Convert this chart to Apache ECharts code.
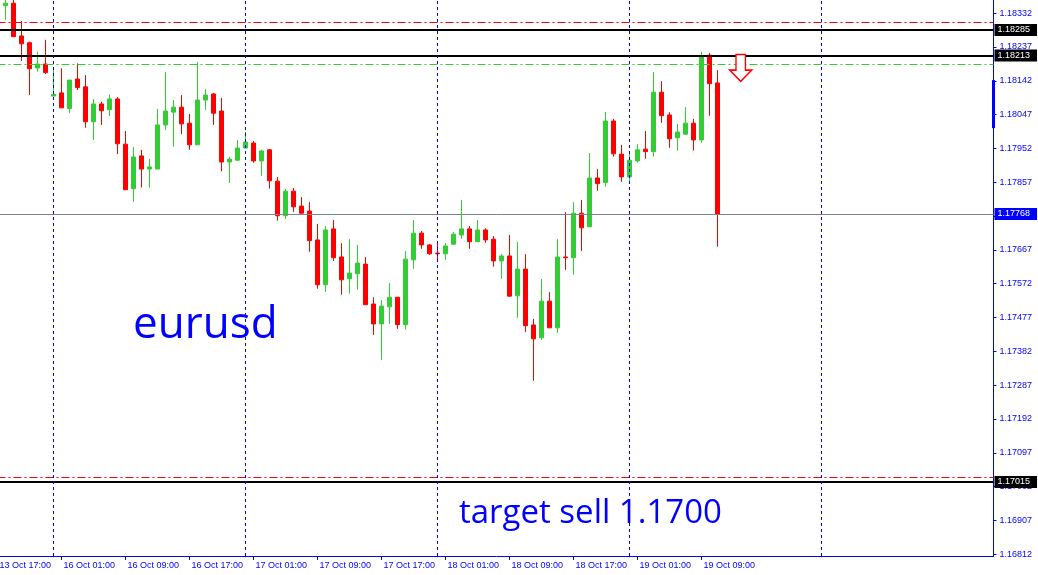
<!DOCTYPE html>
<html><head><meta charset="utf-8">
<script src="https://cdn.jsdelivr.net/npm/echarts@6/dist/echarts.min.js"></script>
<style>html,body{margin:0;padding:0;background:#fff}#c{width:1038px;height:575px}</style>
</head><body><div id="c"></div>
<script>
// H1 bars, index 0 = 13 Oct 18:00
const opens = [1.18353,1.18360,1.18268,1.18249,1.18178,1.18189,1.18099,1.18108,1.18064,1.18147,
1.18125,1.18027,1.18077,1.18061,1.18091,1.17964,1.17839,1.17931,1.17894,1.17894,
1.18018,1.18054,1.18068,1.18023,1.17962,1.18088,1.18105,1.18057,1.17914,1.17919,
1.17953,1.17967,1.17917,1.17948,1.17860,1.17763,1.17832,1.17790,1.17776,1.17695,
1.17569,1.17726,1.17647,1.17586,1.17600,1.17627,1.17515,1.17459,1.17507,1.17534,
1.17457,1.17639,1.17714,1.17681,1.17658,1.17656,1.17683,1.17709,1.17726,1.17690,
1.17723,1.17697,1.17636,1.17650,1.17538,1.17613,1.17456,1.17420,1.17523,1.17448,
1.17647,1.17645,1.17770,1.17732,1.17869,1.17856,1.18029,1.17936,1.17872,1.17917,
1.17950,1.17943,1.18110,1.18046,1.17982,1.17992,1.18023,1.17976,1.18214,1.18136];
const closes = [1.18360,1.18266,1.18246,1.18176,1.18189,1.18165,1.18104,1.18066,1.18144,1.18123,
1.18027,1.18077,1.18058,1.18091,1.17965,1.17836,1.17928,1.17894,1.17900,1.18018,
1.18057,1.18068,1.18021,1.17962,1.18088,1.18102,1.18051,1.17914,1.17922,1.17953,
1.17970,1.17917,1.17945,1.17861,1.17763,1.17832,1.17788,1.17770,1.17693,1.17569,
1.17723,1.17645,1.17583,1.17602,1.17630,1.17513,1.17459,1.17509,1.17534,1.17457,
1.17641,1.17714,1.17681,1.17656,1.17656,1.17678,1.17711,1.17726,1.17690,1.17723,
1.17695,1.17636,1.17650,1.17537,1.17613,1.17454,1.17417,1.17523,1.17448,1.17647,
1.17645,1.17770,1.17729,1.17869,1.17853,1.18029,1.17937,1.17872,1.17919,1.17948,
1.17943,1.18110,1.18044,1.17979,1.17998,1.18023,1.17976,1.18209,1.18134,1.17768];
const lows = [1.18313,1.18265,1.18198,1.18102,1.18168,1.18161,1.18099,1.18066,1.18052,1.18116,
1.18010,1.17976,1.18018,1.18043,1.17936,1.17836,1.17802,1.17842,1.17842,1.17894,
1.18004,1.17957,1.17992,1.17948,1.17962,1.18060,1.18018,1.17888,1.17855,1.17917,
1.17953,1.17912,1.17875,1.17839,1.17749,1.17754,1.17774,1.17769,1.17662,1.17558,
1.17549,1.17636,1.17541,1.17544,1.17555,1.17513,1.17428,1.17358,1.17459,1.17445,
1.17443,1.17614,1.17670,1.17653,1.17639,1.17639,1.17681,1.17698,1.17670,1.17690,
1.17687,1.17620,1.17586,1.17535,1.17476,1.17437,1.17299,1.17414,1.17448,1.17434,
1.17611,1.17597,1.17664,1.17732,1.17833,1.17844,1.17929,1.17858,1.17858,1.17912,
1.17923,1.17929,1.18024,1.17954,1.17946,1.17990,1.17946,1.17968,1.18044,1.17676];
const highs = [1.18375,1.18375,1.18310,1.18252,1.18224,1.18257,1.18177,1.18177,1.18144,1.18191,
1.18158,1.18091,1.18083,1.18104,1.18096,1.18001,1.17956,1.17948,1.17922,1.18063,
1.18167,1.18088,1.18102,1.18049,1.18195,1.18119,1.18108,1.18094,1.17928,1.17976,
1.17998,1.17973,1.17948,1.17950,1.17872,1.17838,1.17841,1.17815,1.17801,1.17740,
1.17734,1.17751,1.17686,1.17697,1.17681,1.17647,1.17534,1.17526,1.17574,1.17534,
1.17664,1.17751,1.17720,1.17683,1.17689,1.17686,1.17717,1.17807,1.17734,1.17751,
1.17728,1.17706,1.17656,1.17709,1.17689,1.17655,1.17473,1.17585,1.17548,1.17697,
1.17773,1.17801,1.17807,1.17939,1.17894,1.18054,1.18035,1.17962,1.17936,1.17964,
1.18001,1.18167,1.18141,1.18054,1.18021,1.18068,1.18035,1.18223,1.18220,1.18172];

const xTickIndex = [-1,7,15,23,31,39,47,55,63,71,79,87];
const xTickLabels = ['13 Oct 17:00','16 Oct 01:00','16 Oct 09:00','16 Oct 17:00','17 Oct 01:00','17 Oct 09:00',
  '17 Oct 17:00','18 Oct 01:00','18 Oct 09:00','18 Oct 17:00','19 Oct 01:00','19 Oct 09:00'];
const yTickValues = [1.18332,1.18237,1.18142,1.18047,1.17952,1.17857,1.17762,1.17667,1.17572,1.17477,
  1.17382,1.17287,1.17192,1.17097,1.17002,1.16907,1.16812];
const daySeparators = [6,30,54,78,102];

const redLevels = [1.18307, 1.17028];
const greenLevels = [1.18189];
const blackLevels = [1.18285, 1.18213, 1.17015];
const bidPrice = 1.17768;
const sideBar = [1.18144, 1.18009];
const arrowBar = 91.9, arrowPrice = 1.18178;

const BLUE = '#0000ff';
const candleData = opens.map((o, i) => [i, o, closes[i], lows[i], highs[i]]);
const axisFont = {fontFamily: 'Liberation Sans', fontSize: 9};
const badge = (txt, bg) => ({show: true, position: 'end', distance: 1, formatter: txt,
  color: '#ffffff', backgroundColor: bg, padding: [2, 7, 1, 3], ...axisFont});

const lines = [];
redLevels.forEach(v => lines.push({yAxis: v, lineStyle: {color: '#ff0000', width: 1, type: [8, 3, 2, 3]}}));
greenLevels.forEach(v => lines.push({yAxis: v, lineStyle: {color: '#32cd32', width: 1, type: [8, 3, 2, 3]}}));
blackLevels.forEach(v => lines.push({yAxis: v, lineStyle: {color: '#000000', width: 2, type: 'solid'}, label: badge(v.toFixed(5), '#000000')}));
lines.push({yAxis: bidPrice, lineStyle: {color: '#7a8591', width: 1, type: 'solid'}, label: badge(bidPrice.toFixed(5), BLUE)});
daySeparators.forEach(v => lines.push({xAxis: v, lineStyle: {color: BLUE, width: 1, type: [3, 3]}}));
lines.push([{coord: [123.5, sideBar[0]], lineStyle: {color: BLUE, width: 3, type: 'solid'}}, {coord: [123.5, sideBar[1]]}]);

const chart = echarts.init(document.getElementById('c'), null, {renderer: 'canvas'});
chart.setOption({
  animation: false,
  backgroundColor: '#ffffff',
  grid: {left: -2.5, right: 44.5, top: 0, bottom: 19, containLabel: false, outerBoundsMode: 'none'},
  xAxis: {
    type: 'value', min: -1, max: 123.5,
    splitLine: {show: false},
    axisLine: {onZero: false, lineStyle: {color: BLUE, width: 1}},
    axisTick: {length: 4, lineStyle: {color: BLUE}, customValues: xTickIndex},
    axisLabel: {customValues: xTickIndex, color: BLUE, align: 'left', margin: 5, padding: [0, 0, 0, 2], ...axisFont,
      formatter: v => xTickLabels[xTickIndex.indexOf(Math.round(v))] || ''}
  },
  yAxis: {
    type: 'value', position: 'right', min: 1.16807, max: 1.18369,
    splitLine: {show: false},
    axisLine: {show: true, onZero: false, lineStyle: {color: BLUE, width: 1}},
    axisTick: {show: true, length: 3, lineStyle: {color: BLUE}, customValues: yTickValues},
    axisLabel: {customValues: yTickValues, color: BLUE, margin: 6, ...axisFont, formatter: v => v.toFixed(5)}
  },
  series: [{
    type: 'candlestick',
    data: candleData,
    barWidth: 4,
    itemStyle: {color: '#32cd32', color0: '#ff0000', borderColor: '#32cd32', borderColor0: '#ff0000', borderWidth: 1},
    markLine: {silent: true, precision: 5, symbol: ['none', 'none'], label: {show: false}, data: lines},
    markPoint: {
      silent: true,
      symbol: 'path://M6,0 L15,0 L15,15 L21,15 L10.5,26 L0,15 L6,15 Z',
      symbolSize: [22, 27],
      itemStyle: {color: '#ffffff', borderColor: '#ff0000', borderWidth: 1.5},
      label: {show: false},
      data: [{coord: [arrowBar, arrowPrice]}]
    }
  }],
  graphic: [
    {type: 'text', z: 1, x: 133, y: 325, style: {text: 'eurusd', fill: BLUE, font: '44px "Open Sans"', textAlign: 'left', textVerticalAlign: 'middle'}},
    {type: 'text', z: 1, x: 459, y: 514, style: {text: 'target sell 1.1700', fill: BLUE, font: '33px "Open Sans"', textAlign: 'left', textVerticalAlign: 'middle'}}
  ]
});
</script></body></html>
